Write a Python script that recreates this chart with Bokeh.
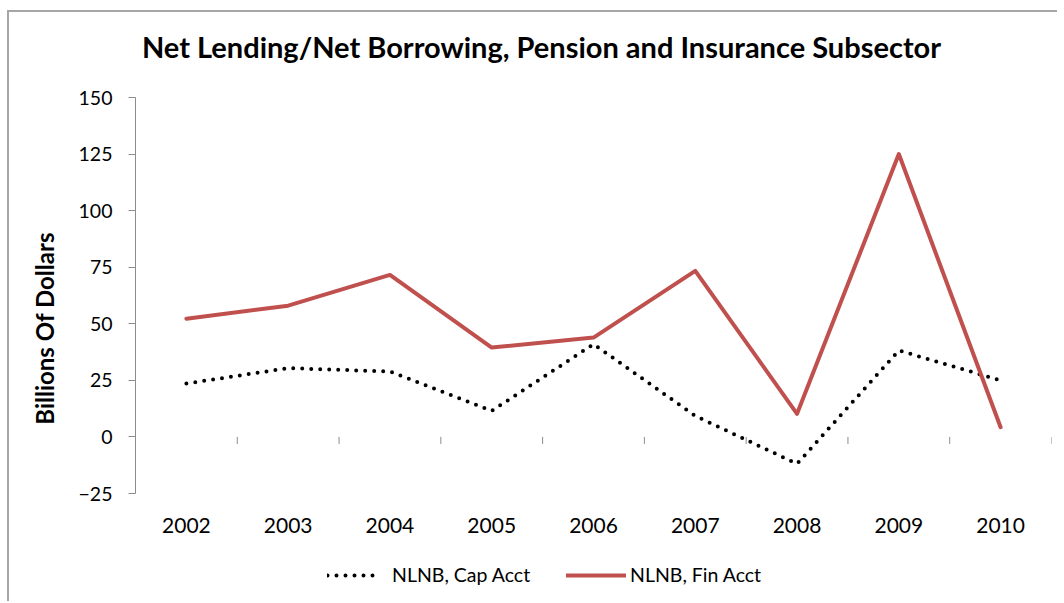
from bokeh.plotting import figure
from bokeh.models import Range1d, FixedTicker, Legend, LegendItem, LinearAxis, Label
from bokeh.embed import file_html
from bokeh.resources import INLINE

# ---- data ----
years = ["2002", "2003", "2004", "2005", "2006", "2007", "2008", "2009", "2010"]
cap_acct = [23.6, 30.4, 28.9, 11.5, 41.0, 9.3, -11.9, 38.2, 25.0]
fin_acct = [52.2, 58.0, 71.6, 39.5, 43.9, 73.4, 10.2, 125.0, 4.3]
y_ticks = [-25, 0, 25, 50, 75, 100, 125, 150]
title_text = "Net Lending/Net Borrowing, Pension and Insurance Subsector"
y_title = "Billions Of Dollars"
series_names = ["NLNB, Cap Acct", "NLNB, Fin Acct"]

FONT = "Lato"
GRID = "#8c8c8c"
RED = "#C0504D"
NBSP = "\u00a0"

xs = list(range(len(years)))

# layout (pixels)
W, H = 1050, 591
TOP, LEFT, RIGHT = 85, 126, 8
PLOT_H = 396                      # height of the value area (-25..150)
BOTTOM = H - TOP - PLOT_H         # room under the value area for labels and legend
px_per_unit = PLOT_H / (y_ticks[-1] - y_ticks[0])
y_start = y_ticks[0] - BOTTOM / px_per_unit
y_end = y_ticks[-1] + TOP / px_per_unit

p = figure(width=W, height=H, output_backend="svg", toolbar_location=None,
           title_location=None,
           x_range=Range1d(-0.5, len(years) - 0.5), y_range=Range1d(y_start, y_end),
           min_border_left=LEFT, min_border_right=RIGHT, min_border_top=0,
           min_border_bottom=0, x_axis_type=None, y_axis_type=None)
p.outline_line_color = None
p.background_fill_color = "white"
p.border_fill_color = "white"
p.styles = {"margin-left": "7px", "margin-top": "10px",
            "border-left": "2px solid #a6a6a6", "border-top": "2px solid #a6a6a6"}

# title
p.add_layout(Label(x=406, y=H - 34, x_units="screen", y_units="screen", text=title_text,
                   text_font=FONT, text_font_style="bold", text_font_size="29px",
                   text_color="black", text_align="center", text_baseline="alphabetic"))

# left axis
yax = LinearAxis(ticker=FixedTicker(ticks=y_ticks), bounds=(y_ticks[0], y_ticks[-1]))
yax.axis_line_color = GRID
yax.major_tick_line_color = GRID
yax.major_tick_out = 7
yax.major_tick_in = 0
yax.minor_tick_line_color = None
yax.major_label_text_font = FONT
yax.major_label_text_font_size = "19.5px"
yax.major_label_text_color = "black"
yax.major_label_standoff = 16
yax.axis_label = y_title + NBSP * 7
yax.axis_label_text_font = FONT
yax.axis_label_text_font_style = "bold"
yax.axis_label_text_font_size = "24px"
yax.axis_label_text_color = "black"
yax.axis_label_standoff = 17
p.add_layout(yax, "left")

# category labels, placed under the value area
xax = LinearAxis(ticker=FixedTicker(ticks=xs), fixed_location=y_ticks[0],
                 major_label_overrides={i: y for i, y in enumerate(years)})
xax.axis_line_color = None
xax.major_tick_line_color = None
xax.minor_tick_line_color = None
xax.major_label_text_font = FONT
xax.major_label_text_font_size = "21px"
xax.major_label_text_color = "black"
xax.major_label_standoff = 18
p.add_layout(xax, "below")

p.ygrid.ticker = FixedTicker(ticks=y_ticks)
p.ygrid.grid_line_color = GRID
p.ygrid.grid_line_width = 1
p.xgrid.visible = False

# category tick marks on the zero axis
tick_len = 7 / px_per_unit
bounds = [i - 0.5 for i in range(len(years) + 1)]
p.segment(x0=bounds, y0=[0] * len(bounds), x1=bounds, y1=[-tick_len] * len(bounds),
          line_color=GRID, line_width=1)

r_cap = p.line(xs, cap_acct, line_color="black", line_width=4, line_dash="0 9",
               line_cap="round")
r_fin = p.line(xs, fin_acct, line_color=RED, line_width=4, line_join="round",
               line_cap="round")

def add_legend(label, renderer, x, gw, standoff):
    lg = Legend(items=[LegendItem(label=label, renderers=[renderer])],
                location=(x, 17), orientation="horizontal",
                glyph_width=gw, glyph_height=20, label_standoff=standoff,
                padding=0, margin=0, border_line_color=None, background_fill_alpha=0,
                label_text_font=FONT, label_text_font_size="19.5px",
                label_text_color="black", label_height=22)
    p.add_layout(lg, "center")

add_legend(series_names[0], r_cap, 192, 51, 14)
add_legend(series_names[1], r_fin, 431, 60, 4)

open("out.html", "w").write(file_html(p, INLINE))
